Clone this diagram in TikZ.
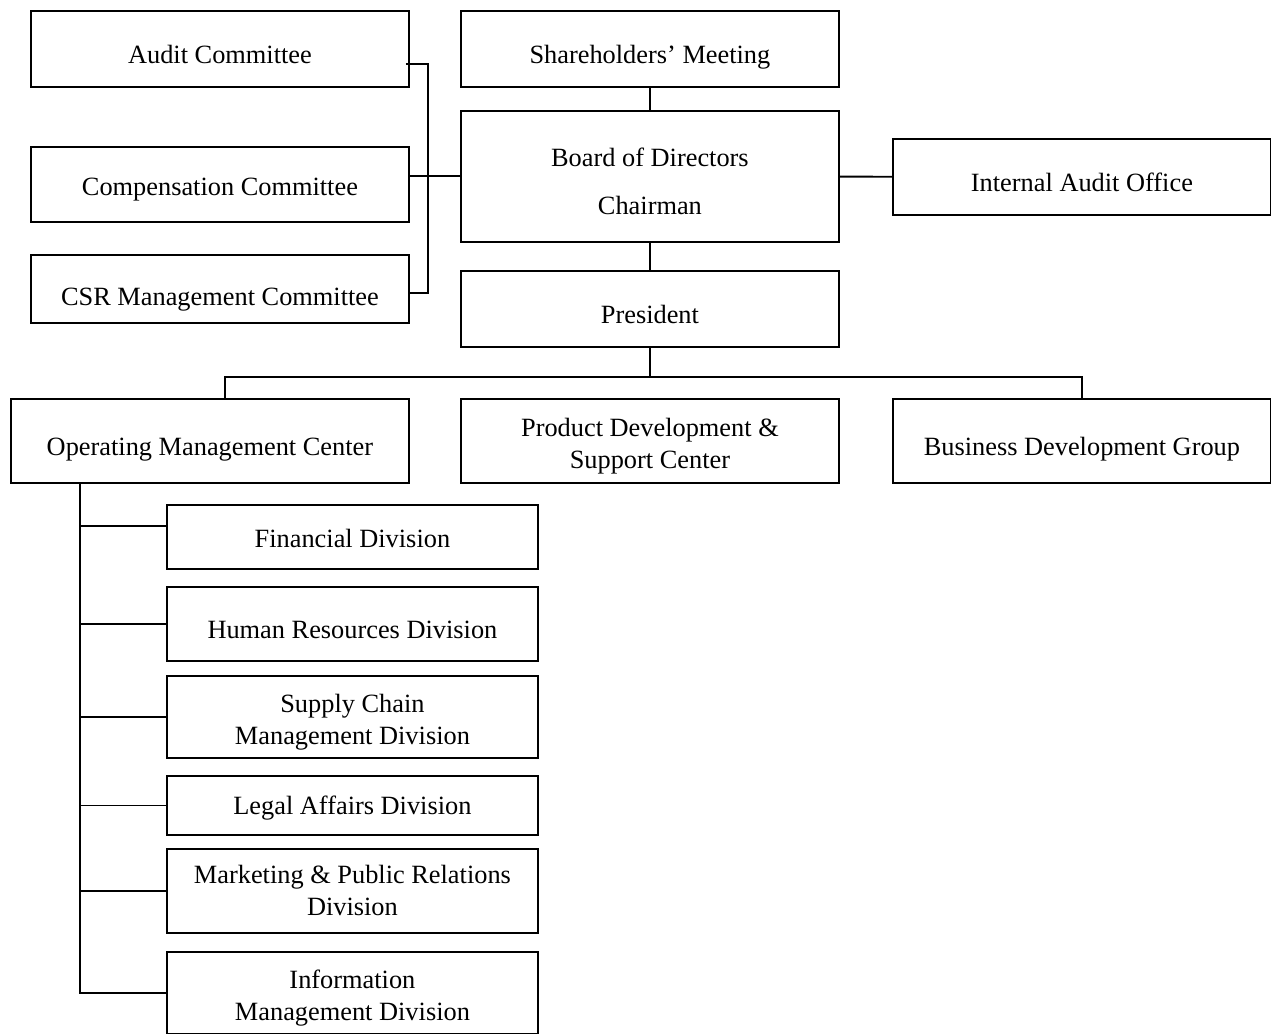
\documentclass[tikz,border=0pt]{standalone}
\usepackage{fontspec}
\setmainfont{Liberation Serif}
\usetikzlibrary{calc}
\tikzstyle{cadre} = [rectangle, draw=black, line width=1.1pt, minimum width=7.56cm, align=center, inner sep=2pt, font=\fontsize{15}{18.2}\selectfont]
\tikzset{seul/.style={text depth=0pt, execute at begin node={\rule{0pt}{#1}}}, seul/.default=17pt}
\tikzstyle{lien} = [draw=black, line width=1.1pt]
\newcommand{\hausse}{\rule{0pt}{16pt}}

\begin{document}
\begin{tikzpicture}[x=0.02cm, y=-0.02cm]
        \useasboundingbox (0,0) rectangle (1271,1034);

        % comites
        \node (audit) [cadre, seul, anchor=north west, minimum height=1.52cm] at (30,10) {Audit Committee};
        \node (comp) [cadre, seul=12.5pt, anchor=north west, minimum height=1.5cm] at (30,146) {Compensation Committee};
        \node (csr) [cadre, seul=19pt, anchor=north west, minimum height=1.36cm] at (30,254) {CSR Management Committee};

        % direction
        \node (share) [cadre, seul, anchor=north west, minimum height=1.52cm] at (460,10) {Shareholders’ Meeting};
        \node (board) [cadre, anchor=north west, minimum height=2.62cm] at (460,110) {\hausse Board of Directors\\[9pt]Chairman};
        \node (iao) [cadre, seul, anchor=north west, minimum height=1.52cm] at (892,138) {Internal Audit Office};
        \node (pres) [cadre, seul, anchor=north west, minimum height=1.52cm] at (460,270) {President};

        % centres
        \node (omc) [cadre, seul, anchor=north west, minimum width=7.96cm, minimum height=1.68cm] at (10,398) {Operating Management Center};
        \node (pdsc) [cadre, anchor=north west, minimum height=1.68cm] at (460,398) {\hausse Product Development \&\\Support Center};
        \node (bdg) [cadre, seul, anchor=north west, minimum height=1.68cm] at (892,398) {Business Development Group};

        % divisions
        \node (fin) [cadre, seul=11.5pt, anchor=north west, minimum width=7.42cm, minimum height=1.28cm] at (166,504) {Financial Division};
        \node (hr) [cadre, seul, anchor=north west, minimum width=7.42cm, minimum height=1.48cm] at (166,586) {Human Resources Division};
        \node (scm) [cadre, anchor=north west, minimum width=7.42cm, minimum height=1.64cm] at (166,675) {\hausse Supply Chain\\Management Division};
        \node (legal) [cadre, seul=10pt, anchor=north west, minimum width=7.42cm, minimum height=1.18cm] at (166,775) {Legal Affairs Division};
        \node (mpr) [cadre, anchor=north west, minimum width=7.42cm, minimum height=1.68cm] at (166,848) {Marketing \& Public Relations\\Division};
        \node (imd) [cadre, anchor=north west, minimum width=7.42cm, minimum height=1.64cm] at (166,951) {\hausse Information\\Management Division};

        % liens
        \coordinate (haut) at (428,64);
        \coordinate (bas) at (428,293);
        \draw[lien] ([xshift=-0.08cm]audit.east |- haut) -- (haut) -- (bas) -- (csr.east |- bas);
        \draw[lien] (comp.east |- board.west) -- (board.west);
        \draw[lien] (share) -- (board);
        \draw[lien] (board) -- (iao);
        \draw[lien] (board) -- (pres);

        \coordinate (bus) at ($(pres.south)+(0,29)$);
        \draw[lien] (pres.south) -- (bus);
        \draw[lien] ([xshift=0.3cm]omc.north) |- (bus) -| (bdg.north);

        \coordinate (tronc) at ($(omc.south west)+(70,0)$);
        \draw[lien] (tronc) |- (imd.west);
        \draw[lien] ([yshift=0.22cm]fin.west) -- ([yshift=0.22cm]fin.west -| tronc);
        \foreach \dv in {hr,scm,legal,mpr}
            \draw[lien] (\dv.west) -- (\dv.west -| tronc);

    \end{tikzpicture}
\end{document}
